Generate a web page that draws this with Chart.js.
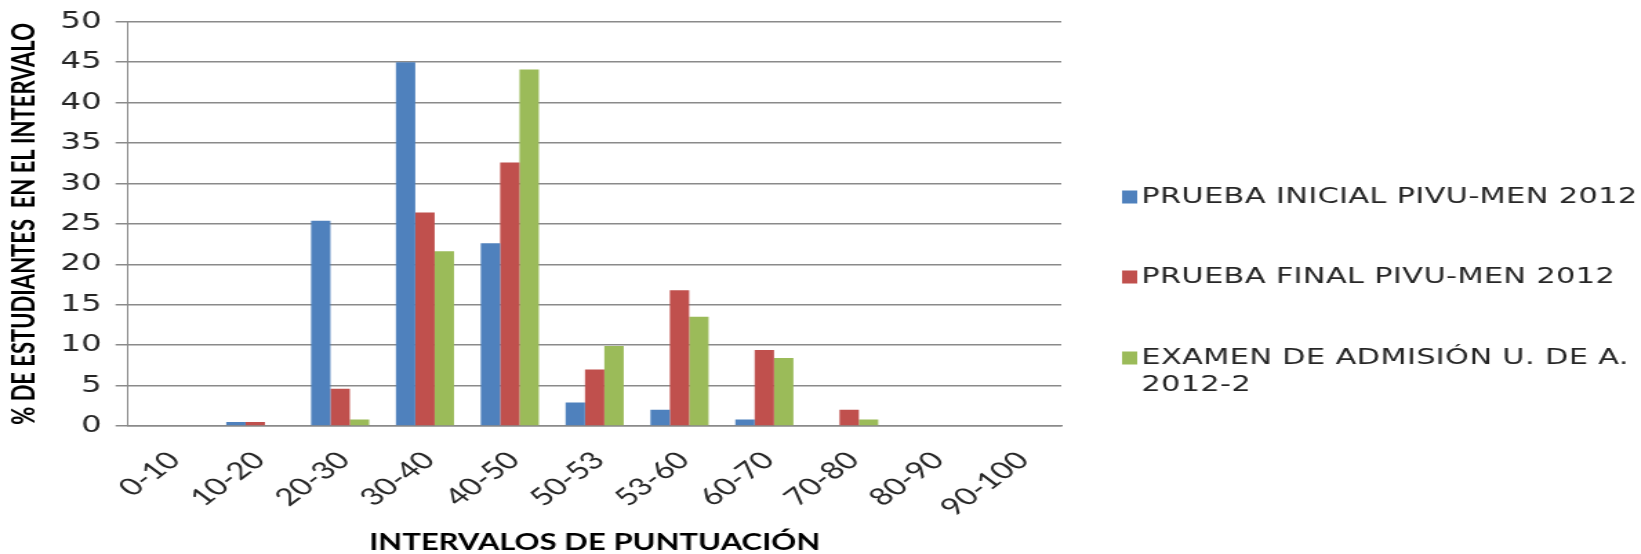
<!DOCTYPE html>
<html>
<head>
<meta charset="utf-8">
<script src="https://cdn.jsdelivr.net/npm/chart.js@4.4.1/dist/chart.umd.min.js"></script>
<style>
  html, body { margin: 0; padding: 0; background: #fff; overflow: hidden; }
  /* the source picture is stretched sideways, so the chart is drawn narrow and widened */
  #wrap { width: 1189px; height: 554px; transform: scaleX(1.3801); transform-origin: 0 0; }
</style>
</head>
<body>
<div id="wrap"><canvas id="grafico"></canvas></div>
<script>
// Datos
const intervalos = ['0-10', '10-20', '20-30', '30-40', '40-50', '50-53', '53-60', '60-70', '70-80', '80-90', '90-100'];
const pruebaInicial = [0, 0.5, 25.4, 45.0, 22.6, 2.9, 2.0, 0.8, 0, 0, 0];
const pruebaFinal = [0, 0.5, 4.6, 26.4, 32.6, 7.0, 16.8, 9.4, 2.0, 0, 0];
const examenAdmision = [0, 0, 0.8, 21.6, 44.1, 9.9, 13.5, 8.4, 0.8, 0, 0];
const nombresSeries = ['PRUEBA INICIAL PIVU-MEN 2012', 'PRUEBA FINAL PIVU-MEN 2012', 'EXAMEN DE ADMISIÓN U. DE A. 2012-2'];
// la tercera entrada de la leyenda va en dos renglones
const lineasLeyenda = [['PRUEBA INICIAL PIVU-MEN 2012'], ['PRUEBA FINAL PIVU-MEN 2012'], ['EXAMEN DE ADMISIÓN U. DE A.', '2012-2']];
const ticksY = [0, 5, 10, 15, 20, 25, 30, 35, 40, 45, 50];

const gris = '#8a8a8a';

// Leyenda a la derecha, dibujada a mano (filas muy separadas y texto partido)
const leyenda = {
    id: 'leyendaDerecha',
    afterDraw(chart) {
        const ctx = chart.ctx;
        const filas = [197, 277, 358];
        const xCuadro = 813, anchoCuadro = 11, altoCuadro = 13, xTexto = 827, interlinea = 27;
        ctx.save();
        ctx.font = '22px "DejaVu Sans"';
        ctx.letterSpacing = '0.25px';
        ctx.textBaseline = 'middle';
        ctx.textAlign = 'left';
        chart.data.datasets.forEach((ds, i) => {
            const y = filas[i];
            ctx.fillStyle = ds.backgroundColor;
            ctx.fillRect(xCuadro, y - altoCuadro / 2, anchoCuadro, altoCuadro);
            ctx.fillStyle = '#262626';
            lineasLeyenda[i].forEach((l, j) => ctx.fillText(l, xTexto, y + j * interlinea));
        });
        ctx.restore();
    }
};

const ctx = document.getElementById('grafico').getContext('2d');
new Chart(ctx, {
    type: 'bar',
    data: {
        labels: intervalos,
        datasets: [
            { label: nombresSeries[0], data: pruebaInicial, backgroundColor: '#4f81bd' },
            { label: nombresSeries[1], data: pruebaFinal, backgroundColor: '#c0504d' },
            { label: nombresSeries[2], data: examenAdmision, backgroundColor: '#9bbb59' }
        ]
    },
    options: {
        responsive: true,
        maintainAspectRatio: false,
        animation: false,
        categoryPercentage: 0.685,
        barPercentage: 1,
        layout: { padding: { top: 8, right: 420, bottom: 0, left: 0 } },
        plugins: {
            legend: { display: false },
            tooltip: { enabled: false }
        },
        scales: {
            y: {
                min: 0,
                max: 50,
                afterBuildTicks: (scale) => { scale.ticks = ticksY.map(v => ({ value: v })); },
                afterFit: (scale) => { scale.width = 92.75; },
                ticks: {
                    font: { family: 'DejaVu Sans', size: 23.5, lineHeight: 1 },
                    color: '#262626',
                    padding: 10
                },
                grid: { color: gris, lineWidth: 1.5, tickLength: 9, tickColor: gris, tickWidth: 1.5 },
                border: { color: gris, width: 1 },
                title: {
                    display: true,
                    text: '% DE ESTUDIANTES  EN EL INTERVALO',
                    font: { family: 'Lato', size: 22, weight: 'bold', lineHeight: 1 },
                    color: '#000',
                    padding: { top: 7, bottom: 0 }
                }
            },
            x: {
                afterFit: (scale) => { scale.height = 128; },
                grid: { display: false },
                border: { color: gris, width: 1.5 },
                ticks: {
                    autoSkip: false,
                    maxRotation: 45,
                    minRotation: 45,
                    font: { family: 'Lato', size: 24 },
                    color: '#262626',
                    padding: 12,
                    labelOffset: 3
                },
                title: {
                    display: true,
                    text: 'INTERVALOS DE PUNTUACIÓN',
                    font: { family: 'Lato', size: 22.5, weight: 'bold', lineHeight: 1 },
                    color: '#000',
                    padding: { top: 0, bottom: 0 }
                }
            }
        }
    },
    plugins: [leyenda]
});
</script>
</body>
</html>
